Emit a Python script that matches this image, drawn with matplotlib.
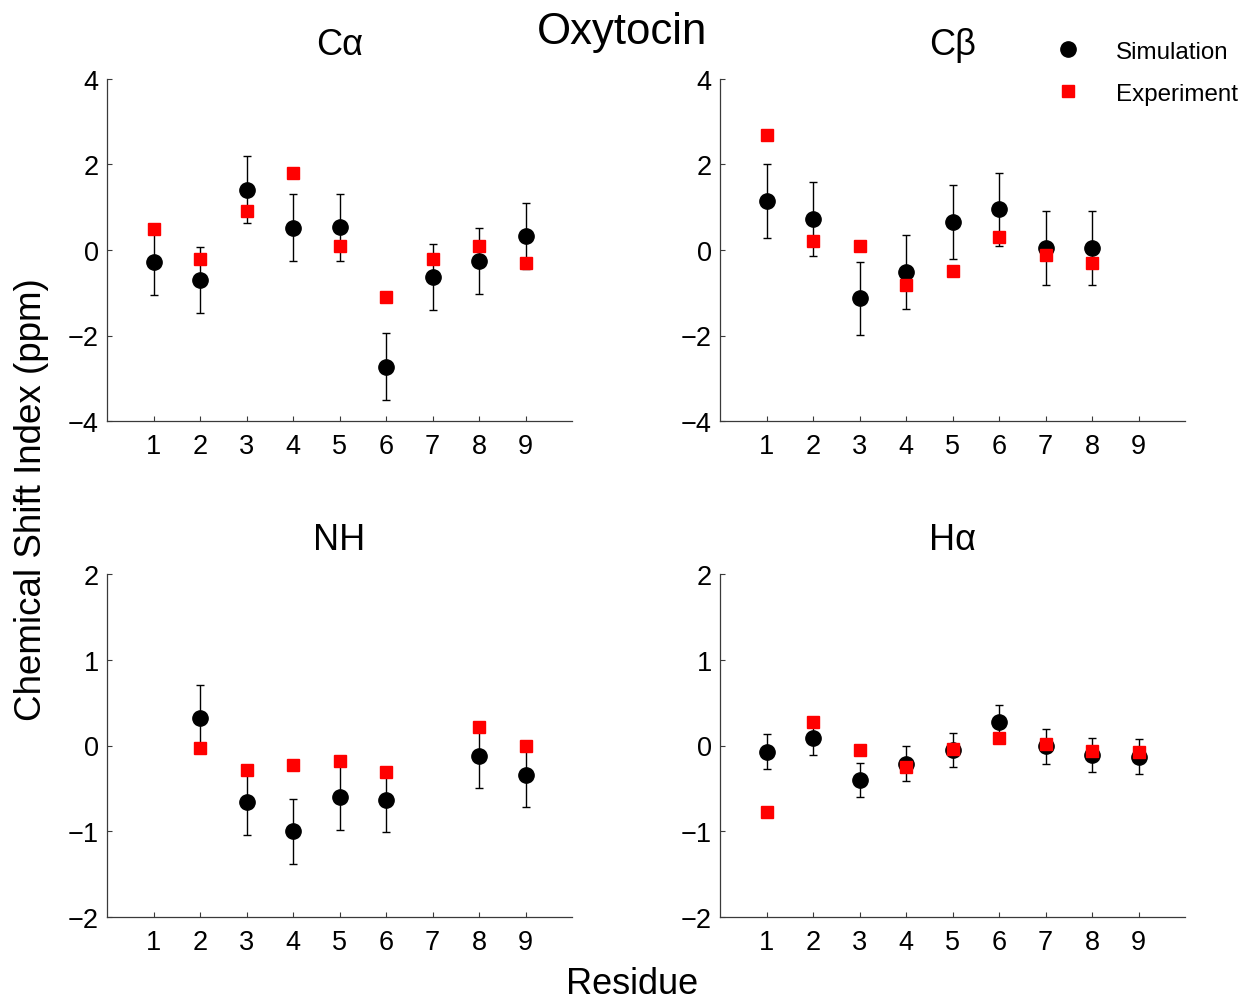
import matplotlib
matplotlib.use("Agg")
import matplotlib.pyplot as plt
from matplotlib.lines import Line2D
import numpy as np

plt.rcParams["font.family"] = ["Liberation Sans", "DejaVu Sans"]

nan = np.nan
residues = np.arange(1, 10)

# Simulation means / error, experiment values for each nucleus
ca_sim = [-0.28, -0.70, 1.41, 0.52, 0.53, -2.73, -0.63, -0.26, 0.33]
ca_err = [0.78, 0.78, 0.78, 0.78, 0.78, 0.78, 0.78, 0.78, 0.78]
ca_exp = [0.50, -0.20, 0.91, 1.80, 0.09, -1.10, -0.20, 0.09, -0.30]

cb_sim = [1.15, 0.72, -1.13, -0.52, 0.65, 0.95, 0.05, 0.05, nan]
cb_err = [0.86, 0.86, 0.86, 0.86, 0.86, 0.86, 0.86, 0.86, nan]
cb_exp = [2.70, 0.20, 0.09, -0.81, -0.50, 0.30, -0.11, -0.30, nan]

nh_sim = [nan, 0.32, -0.66, -1.00, -0.60, -0.63, nan, -0.12, -0.34]
nh_err = [nan, 0.38, 0.38, 0.38, 0.38, 0.38, nan, 0.38, 0.38]
nh_exp = [nan, -0.03, -0.29, -0.23, -0.18, -0.31, nan, 0.21, 0.00]

ha_sim = [-0.07, 0.09, -0.40, -0.21, -0.05, 0.27, -0.01, -0.11, -0.13]
ha_err = [0.20, 0.20, 0.20, 0.20, 0.20, 0.20, 0.20, 0.20, 0.20]
ha_exp = [-0.78, 0.27, -0.05, -0.25, -0.04, 0.09, 0.02, -0.06, -0.07]

panels = [
    ("C\u03b1", ca_sim, ca_err, ca_exp, (-4, 4), [-4, -2, 0, 2, 4]),
    ("C\u03b2", cb_sim, cb_err, cb_exp, (-4, 4), [-4, -2, 0, 2, 4]),
    ("NH", nh_sim, nh_err, nh_exp, (-2, 2), [-2, -1, 0, 1, 2]),
    ("H\u03b1", ha_sim, ha_err, ha_exp, (-2, 2), [-2, -1, 0, 1, 2]),
]

W, H = 1252, 1003
fig = plt.figure(figsize=(W / 100, H / 100), dpi=100)

# axes boxes in pixels: left, top, right, bottom
boxes = [
    (107, 80, 572, 422),
    (720, 80, 1185, 422),
    (107, 575, 572, 918),
    (720, 575, 1185, 918),
]

spine_col = "#3a3a3a"
for (title, sim, err, exp, ylim, yticks), (l, t, r, b) in zip(panels, boxes):
    ax = fig.add_axes([l / W, 1 - b / H, (r - l) / W, (b - t) / H])
    ax.errorbar(residues, sim, yerr=err, fmt="o", color="black", ms=11,
                elinewidth=1.0, capsize=2.6, capthick=1.0, ecolor="black",
                zorder=2)
    ax.plot(residues, exp, "s", color="red", ms=9, mec="red", zorder=3)
    ax.set_xlim(0, 10)
    ax.set_ylim(*ylim)
    ax.set_xticks(residues)
    ax.set_yticks(yticks)
    for side in ("top", "right"):
        ax.spines[side].set_visible(False)
    for side in ("left", "bottom"):
        ax.spines[side].set_color(spine_col)
        ax.spines[side].set_linewidth(0.9)
    ax.tick_params(direction="in", length=3.8, width=0.8, color=spine_col,
                   labelsize=19.5)
    ax.tick_params(axis="x", pad=9)
    ax.tick_params(axis="y", pad=6)
    ax.set_title(title, fontsize=26, pad=18)

fig.text(0.497, 0.968, "Oxytocin", fontsize=31.5, ha="center", va="center")
fig.text(0.025, 0.5015, "Chemical Shift Index (ppm)", fontsize=26.5,
         rotation=90, ha="center", va="center")
fig.text(0.505, 0.018, "Residue", fontsize=26, ha="center", va="center")

handles = [
    Line2D([], [], marker="o", ls="none", color="black", ms=11),
    Line2D([], [], marker="s", ls="none", color="red", ms=9),
]
fig.legend(handles, ["Simulation", "Experiment"], loc="upper left",
           bbox_to_anchor=(0.8164, 0.980), frameon=False, fontsize=17.4,
           handlelength=2, handletextpad=0.98, labelspacing=0.83,
           numpoints=1, borderpad=0.4)

fig.savefig("out.png", dpi=100)
